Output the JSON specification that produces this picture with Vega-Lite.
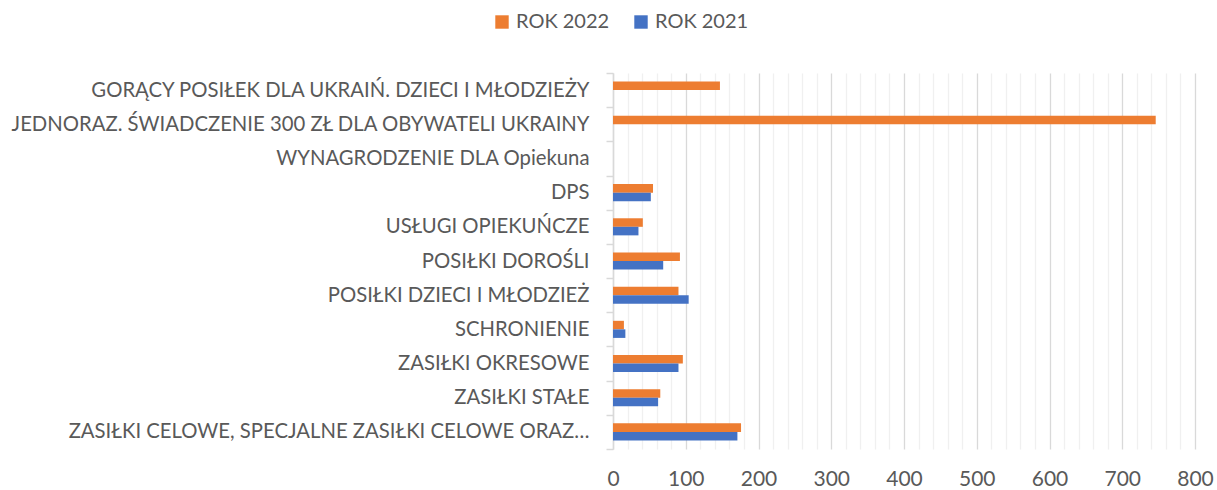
{
  "$schema": "https://vega.github.io/schema/vega-lite/v6.json",
  "width": 582,
  "height": 376,
  "autosize": {"type": "none"},
  "padding": {"left": 613, "top": 73, "right": 22, "bottom": 41},
  "background": "white",
  "config": {"view": {"stroke": null}, "font": "Lato"},
  "data": {
    "values": [
      {"cat": "GORĄCY POSIŁEK DLA UKRAIŃ. DZIECI I MŁODZIEŻY", "rok": "ROK 2022", "value": 147},
      {"cat": "GORĄCY POSIŁEK DLA UKRAIŃ. DZIECI I MŁODZIEŻY", "rok": "ROK 2021", "value": 0},
      {"cat": "JEDNORAZ. ŚWIADCZENIE 300 ZŁ DLA OBYWATELI UKRAINY", "rok": "ROK 2022", "value": 746},
      {"cat": "JEDNORAZ. ŚWIADCZENIE 300 ZŁ DLA OBYWATELI UKRAINY", "rok": "ROK 2021", "value": 0},
      {"cat": "WYNAGRODZENIE DLA Opiekuna", "rok": "ROK 2022", "value": 0},
      {"cat": "WYNAGRODZENIE DLA Opiekuna", "rok": "ROK 2021", "value": 0},
      {"cat": "DPS", "rok": "ROK 2022", "value": 55},
      {"cat": "DPS", "rok": "ROK 2021", "value": 52},
      {"cat": "USŁUGI OPIEKUŃCZE", "rok": "ROK 2022", "value": 41},
      {"cat": "USŁUGI OPIEKUŃCZE", "rok": "ROK 2021", "value": 35},
      {"cat": "POSIŁKI DOROŚLI", "rok": "ROK 2022", "value": 92},
      {"cat": "POSIŁKI DOROŚLI", "rok": "ROK 2021", "value": 69},
      {"cat": "POSIŁKI DZIECI I MŁODZIEŻ", "rok": "ROK 2022", "value": 90},
      {"cat": "POSIŁKI DZIECI I MŁODZIEŻ", "rok": "ROK 2021", "value": 104},
      {"cat": "SCHRONIENIE", "rok": "ROK 2022", "value": 15},
      {"cat": "SCHRONIENIE", "rok": "ROK 2021", "value": 17},
      {"cat": "ZASIŁKI OKRESOWE", "rok": "ROK 2022", "value": 96},
      {"cat": "ZASIŁKI OKRESOWE", "rok": "ROK 2021", "value": 90},
      {"cat": "ZASIŁKI STAŁE", "rok": "ROK 2022", "value": 65},
      {"cat": "ZASIŁKI STAŁE", "rok": "ROK 2021", "value": 62},
      {"cat": "ZASIŁKI CELOWE, SPECJALNE ZASIŁKI CELOWE ORAZ…", "rok": "ROK 2022", "value": 176},
      {"cat": "ZASIŁKI CELOWE, SPECJALNE ZASIŁKI CELOWE ORAZ…", "rok": "ROK 2021", "value": 171}
    ]
  },
  "mark": {"type": "bar"},
  "encoding": {
    "y": {
      "field": "cat",
      "type": "nominal",
      "sort": null,
      "scale": {"paddingInner": 0, "paddingOuter": 0},
      "axis": {
        "title": null,
        "grid": false,
        "domainColor": "#d9d9d9",
        "domainWidth": 1.5,
        "tickColor": "#d9d9d9",
        "tickWidth": 1.5,
        "tickSize": 7,
        "tickBand": "extent",
        "labelFontSize": 20.3,
        "labelColor": "#595959",
        "labelPadding": 17,
        "labelLimit": 0
      }
    },
    "yOffset": {
      "field": "rok",
      "type": "nominal",
      "sort": ["ROK 2022", "ROK 2021"],
      "scale": {"paddingInner": 0, "paddingOuter": 1.44}
    },
    "x": {
      "field": "value",
      "type": "quantitative",
      "scale": {"domain": [0, 800], "nice": false},
      "axis": {
        "title": null,
        "values": [0,20,40,60,80,100,120,140,160,180,200,220,240,260,280,300,320,340,360,380,400,420,440,460,480,500,520,540,560,580,600,620,640,660,680,700,720,740,760,780,800],
        "domain": false,
        "ticks": false,
        "labelFlush": false,
        "labelOverlap": false,
        "labelExpr": "datum.value % 100 === 0 ? datum.label : ''",
        "gridColor": {"condition": {"test": "datum.value % 100 === 0", "value": "#d9d9d9"}, "value": "#f0f0f0"},
        "gridWidth": 1.3,
        "labelFontSize": 21,
        "labelColor": "#595959",
        "labelPadding": 19
      }
    },
    "color": {
      "field": "rok",
      "type": "nominal",
      "scale": {"domain": ["ROK 2022", "ROK 2021"], "range": ["#ED7D31", "#4472C4"]},
      "legend": {
        "title": null,
        "orient": "none",
        "direction": "horizontal",
        "legendX": -121,
        "legendY": -61,
        "symbolType": "square",
        "symbolSize": 180,
        "symbolStrokeWidth": 0,
        "labelFontSize": 20,
        "labelColor": "#595959",
        "labelOffset": 4,
        "columnPadding": 21
      }
    }
  }
}
